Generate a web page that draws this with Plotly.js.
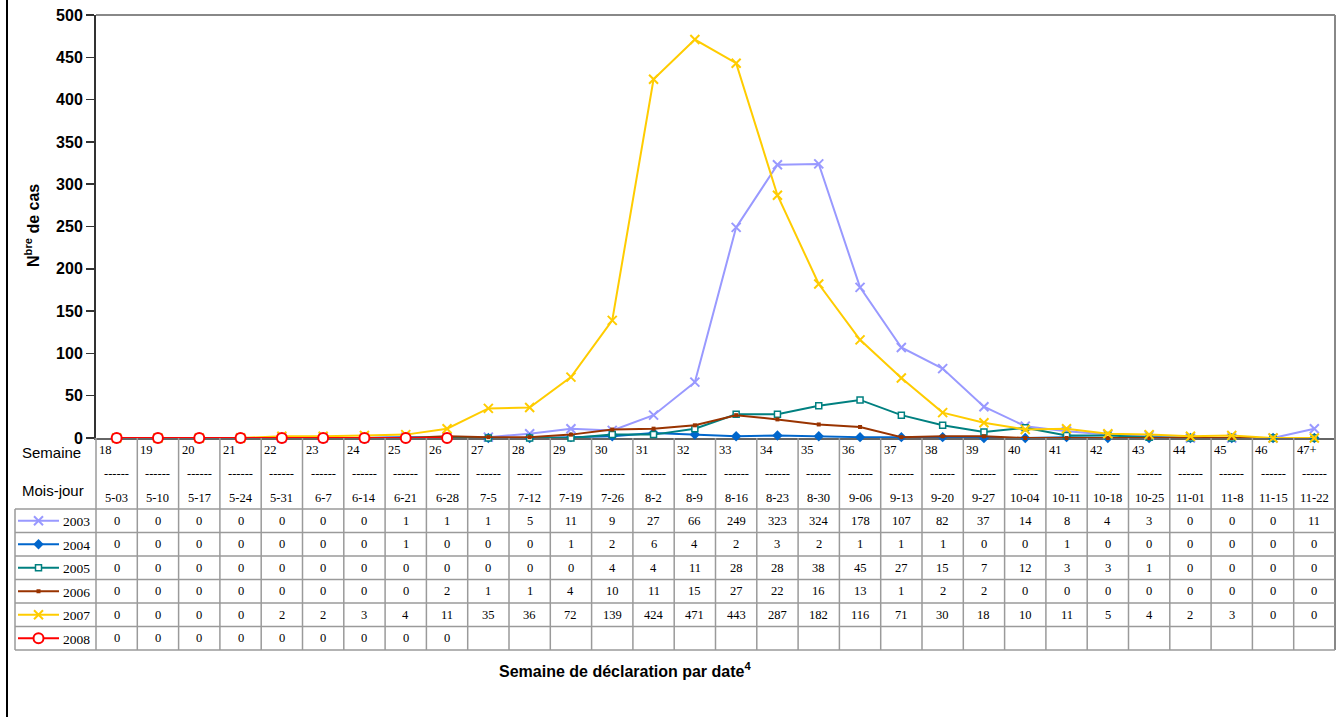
<!DOCTYPE html>
<html><head><meta charset="utf-8">
<script src="https://cdn.plot.ly/plotly-3.0.1.min.js"></script>
<style>html,body{margin:0;padding:0;background:#fff;} #chart{width:1336px;height:717px;}</style>
</head><body><div id="chart"></div>
<script>
// ---------- DATA ----------
const weeks = ['18','19','20','21','22','23','24','25','26','27','28','29','30','31','32','33','34','35','36','37','38','39','40','41','42','43','44','45','46','47+'];
const dates = ['5-03','5-10','5-17','5-24','5-31','6-7','6-14','6-21','6-28','7-5','7-12','7-19','7-26','8-2','8-9','8-16','8-23','8-30','9-06','9-13','9-20','9-27','10-04','10-11','10-18','10-25','11-01','11-8','11-15','11-22'];
const years = ['2003','2004','2005','2006','2007','2008'];
const cas2003 = [0,0,0,0,0,0,0,1,1,1,5,11,9,27,66,249,323,324,178,107,82,37,14,8,4,3,0,0,0,11];
const cas2004 = [0,0,0,0,0,0,0,1,0,0,0,1,2,6,4,2,3,2,1,1,1,0,0,1,0,0,0,0,0,0];
const cas2005 = [0,0,0,0,0,0,0,0,0,0,0,0,4,4,11,28,28,38,45,27,15,7,12,3,3,1,0,0,0,0];
const cas2006 = [0,0,0,0,0,0,0,0,2,1,1,4,10,11,15,27,22,16,13,1,2,2,0,0,0,0,0,0,0,0];
const cas2007 = [0,0,0,0,2,2,3,4,11,35,36,72,139,424,471,443,287,182,116,71,30,18,10,11,5,4,2,3,0,0];
const cas2008 = [0,0,0,0,0,0,0,0,0];
const yTicks = [0,50,100,150,200,250,300,350,400,450,500];

// ---------- STYLE ----------
const values = [cas2003,cas2004,cas2005,cas2006,cas2007,cas2008];
const styles = [
  {color:'#9999FF', fill:'#9999FF', symbol:'x-thin', size:9, mlw:2},
  {color:'#0066CC', fill:'#0066CC', symbol:'diamond', size:8, mlw:0},
  {color:'#008080', fill:'#ffffff', symbol:'square', size:6, mlw:1.5},
  {color:'#993300', fill:'#993300', symbol:'square', size:4, mlw:0},
  {color:'#FFCC00', fill:'#FFCC00', symbol:'x-thin', size:9, mlw:2},
  {color:'#FF0000', fill:'#ffffff', symbol:'circle', size:10, mlw:2}
];

const W=1336, H=717;
const px = x => x/W;
const py = y => 1 - y/H;
const plotL=96, plotR=1335, plotT=15, plotB=438;
const headB=509, rowH=23.5;
const xd0=px(plotL), xd1=px(plotR);
const nCol = weeks.length;
const colEdge = k => xd0 + k/nCol*(xd1-xd0);
const rowCenter = i => headB + rowH*(i+0.5);
const tableB = headB + rowH*years.length;

const serif = 'Liberation Serif, Times New Roman, serif';
const sans = 'Liberation Sans, Arial, sans-serif';

const traces = [];
values.forEach((v,i)=>{
  const s = styles[i];
  traces.push({
    type:'scatter', mode:'lines+markers', name:years[i],
    x: v.map((_,j)=>j), y: v,
    line:{color:s.color, width:2},
    marker:{symbol:s.symbol, size:s.size, color:s.fill, line:{color:s.color, width:s.mlw}},
    cliponaxis:false, showlegend:false, hoverinfo:'skip'
  });
});
// legend samples in the table
years.forEach((yr,i)=>{
  const s = styles[i];
  traces.push({type:'scatter', mode:'lines', x:[0,1], y:[i,i], xaxis:'x2', yaxis:'y2',
    line:{color:s.color, width:2}, showlegend:false, hoverinfo:'skip'});
  traces.push({type:'scatter', mode:'markers', x:[0.5], y:[i], xaxis:'x2', yaxis:'y2',
    marker:{symbol:s.symbol, size:s.size, color:s.fill, line:{color:s.color, width:s.mlw}},
    cliponaxis:false, showlegend:false, hoverinfo:'skip'});
});

const annotations = [];
const shapes = [];
const grid = {color:'#9a9a9a', width:1.5};
const cellFont = {family:serif, size:12.5, color:'#000'};

weeks.forEach((w,j)=>{
  annotations.push({xref:'x', yref:'paper', x:j-0.5, y:py(450), text:w, showarrow:false,
    xanchor:'left', yanchor:'middle', xshift:1, font:cellFont});
  annotations.push({xref:'x', yref:'paper', x:j, y:py(474), text:'------', showarrow:false,
    xanchor:'center', yanchor:'middle', font:cellFont});
  annotations.push({xref:'x', yref:'paper', x:j, y:py(498), text:dates[j], showarrow:false,
    xanchor:'center', yanchor:'middle', font:cellFont});
});
values.forEach((v,i)=>{
  v.forEach((val,j)=>{
    annotations.push({xref:'x', yref:'paper', x:j, y:py(rowCenter(i)), text:String(val), showarrow:false,
      xanchor:'center', yanchor:'middle', font:cellFont});
  });
  annotations.push({xref:'paper', yref:'paper', x:px(61), y:py(rowCenter(i)+1), text:years[i], showarrow:false,
    xanchor:'left', yanchor:'middle', font:{family:serif, size:13.5, color:'#000'}});
});
annotations.push({xref:'paper', yref:'paper', x:px(20), y:py(452), text:'Semaine', showarrow:false,
  xanchor:'left', yanchor:'middle', font:{family:sans, size:15, color:'#000'}});
annotations.push({xref:'paper', yref:'paper', x:px(20), y:py(490), text:'Mois-jour', showarrow:false,
  xanchor:'left', yanchor:'middle', font:{family:sans, size:15, color:'#000'}});
annotations.push({xref:'paper', yref:'paper', x:px(625), y:py(670), text:'<b>Semaine de déclaration par date<sup>4</sup></b>', showarrow:false,
  xanchor:'center', yanchor:'middle', font:{family:sans, size:16, color:'#000'}});
annotations.push({xref:'paper', yref:'paper', x:px(32), y:py(226), text:'<b>N<sup>bre</sup> de cas</b>', showarrow:false,
  textangle:-90, xanchor:'center', yanchor:'middle', font:{family:sans, size:16, color:'#000'}});

// frame and table grid
shapes.push({type:'line', xref:'paper', yref:'paper', x0:px(7), x1:px(7), y0:0, y1:1, line:{color:'#000', width:2}});
shapes.push({type:'line', xref:'paper', yref:'paper', x0:xd0, x1:xd1, y0:py(plotT), y1:py(plotT), line:{color:'#888', width:2}});
shapes.push({type:'line', xref:'paper', yref:'paper', x0:xd1, x1:xd1, y0:py(plotT), y1:py(tableB), line:{color:'#888', width:2}});
for(let k=0;k<nCol;k++){
  shapes.push({type:'line', xref:'paper', yref:'paper', x0:colEdge(k), x1:colEdge(k), y0:py(plotB), y1:py(tableB), line:grid});
}
for(let r=0;r<=years.length;r++){
  const yy = headB + rowH*r;
  shapes.push({type:'line', xref:'paper', yref:'paper', x0:px(15), x1:xd1, y0:py(yy), y1:py(yy), line:grid});
}
shapes.push({type:'line', xref:'paper', yref:'paper', x0:px(15), x1:px(15), y0:py(headB), y1:py(tableB), line:grid});

const layout = {
  width:W, height:H, margin:{l:0,r:0,t:0,b:0},
  paper_bgcolor:'#fff', plot_bgcolor:'#fff', showlegend:false,
  xaxis:{domain:[xd0,xd1], range:[-0.5,nCol-0.5], showgrid:false, zeroline:false,
    showticklabels:false, ticks:'', showline:true, linecolor:'#666', linewidth:2, layer:'below traces', fixedrange:true},
  yaxis:{domain:[py(plotB), py(plotT)], range:[0,500], tickvals:yTicks, showgrid:false, zeroline:false,
    ticks:'outside', ticklen:8, tickwidth:1.5, tickcolor:'#333', showline:true, linecolor:'#333', linewidth:2,
    tickfont:{family:sans, size:16, color:'#000', weight:'bold'}, layer:'below traces', fixedrange:true},
  xaxis2:{domain:[px(18), px(59)], range:[0,1], visible:false, fixedrange:true},
  yaxis2:{domain:[py(tableB), py(headB)], range:[years.length-0.5,-0.5], visible:false, fixedrange:true},
  annotations, shapes
};
Plotly.newPlot('chart', traces, layout, {staticPlot:true});
</script></body></html>
